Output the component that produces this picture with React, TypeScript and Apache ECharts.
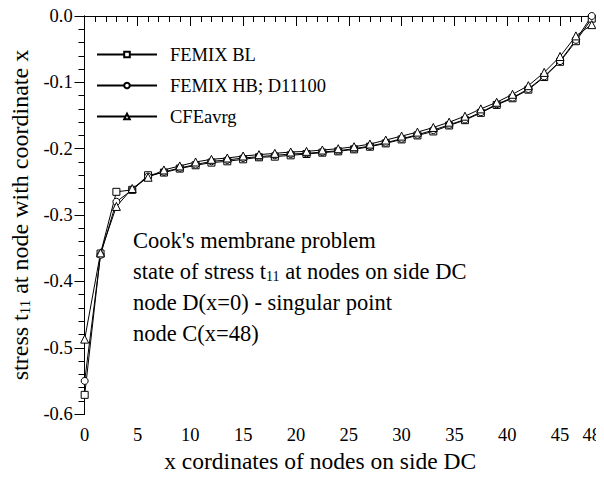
import React, { useEffect, useRef } from "react";
import * as echarts from "echarts";

const xNodes = [0, 1.5, 3, 4.5, 6, 7.5, 9, 10.5, 12, 13.5, 15, 16.5, 18, 19.5, 21, 22.5, 24, 25.5, 27, 28.5, 30, 31.5, 33, 34.5, 36, 37.5, 39, 40.5, 42, 43.5, 45, 46.5, 48];

const femixBL = [-0.571, -0.358, -0.265, -0.262, -0.240, -0.236, -0.230, -0.225, -0.221, -0.219, -0.216, -0.213, -0.212, -0.210, -0.208, -0.206, -0.204, -0.201, -0.197, -0.192, -0.186, -0.180, -0.174, -0.165, -0.157, -0.146, -0.134, -0.124, -0.111, -0.092, -0.069, -0.038, -0.004];

const femixHB = [-0.550, -0.360, -0.280, -0.262, -0.242, -0.235, -0.229, -0.224, -0.219, -0.217, -0.214, -0.212, -0.210, -0.208, -0.207, -0.205, -0.203, -0.200, -0.196, -0.191, -0.185, -0.179, -0.172, -0.164, -0.156, -0.145, -0.133, -0.123, -0.110, -0.091, -0.068, -0.036, 0.0];

const cfeAvrg = [-0.487, -0.357, -0.287, -0.260, -0.243, -0.232, -0.226, -0.220, -0.216, -0.214, -0.211, -0.209, -0.207, -0.205, -0.204, -0.202, -0.200, -0.197, -0.193, -0.187, -0.181, -0.175, -0.168, -0.160, -0.151, -0.140, -0.130, -0.118, -0.105, -0.085, -0.061, -0.030, -0.013];

const seriesNames = ["FEMIX BL", "FEMIX HB; D11100", "CFEavrg"];
const seriesSymbols = ["rect", "circle", "triangle"];

const annotationLines = [
  "Cook's membrane problem",
  "state of stress t{sub|11} at nodes on side DC",
  "node D(x=0) - singular point",
  "node C(x=48)",
];

const FONT = "Liberation Serif";

export default function App() {
  const ref = useRef<HTMLDivElement>(null);
  useEffect(() => {
    if (!ref.current) return;
    const chart = echarts.init(ref.current, null, { renderer: "svg" });
    const allData = [femixBL, femixHB, cfeAvrg];
    const lineCommon = { show: true, lineStyle: { color: "#000", width: 1 } };
    const xBase = { type: "value", min: 0, max: 48, gridIndex: 0, splitLine: { show: false }, axisLine: lineCommon };
    const yBase = { type: "value", min: -0.6, max: 0, interval: 0.1, splitLine: { show: false }, axisLine: lineCommon };
    chart.setOption({
      animation: false,
      backgroundColor: "#fff",
      textStyle: { fontFamily: FONT },
      grid: { left: 81, right: 11, top: 16, bottom: 53, containLabel: false },
      legend: {
        orient: "vertical",
        left: 91,
        top: 40,
        itemWidth: 60,
        itemHeight: 7,
        itemGap: 12,
        data: seriesNames,
        textStyle: { fontFamily: FONT, fontSize: 18.5, color: "#000", padding: [0, 0, 0, 8] },
      },
      xAxis: [
        {
          ...xBase,
          position: "bottom",
          interval: 5,
          axisTick: { show: true, inside: false, length: 10, lineStyle: { color: "#000" } },
          axisLabel: { show: true, margin: 11, fontFamily: FONT, fontSize: 18.5, color: "#000" },
          name: "x cordinates of nodes on side DC",
          nameLocation: "middle",
          nameGap: 28,
          nameTextStyle: { fontFamily: FONT, fontSize: 23.5, color: "#000", padding: [0, 36, 0, 0] },
        },
        {
          ...xBase,
          position: "bottom",
          interval: 1,
          axisTick: { show: true, inside: false, length: 6, lineStyle: { color: "#000" } },
          axisLabel: { show: false },
        },
        {
          ...xBase,
          position: "top",
          interval: 5,
          axisTick: { show: true, inside: true, length: 10, lineStyle: { color: "#000" } },
          axisLabel: { show: false },
        },
        {
          ...xBase,
          position: "top",
          interval: 1,
          axisTick: { show: true, inside: true, length: 6, lineStyle: { color: "#000" } },
          axisLabel: { show: false },
        },
      ],
      yAxis: [
        {
          ...yBase,
          position: "left",
          axisTick: { show: true, inside: false, length: 10, lineStyle: { color: "#000" } },
          minorTick: { show: true, splitNumber: 5, length: 6, lineStyle: { color: "#000" } },
          axisLabel: {
            show: true,
            margin: 12,
            fontFamily: FONT,
            fontSize: 18.5,
            color: "#000",
            formatter: (v: number) => v.toFixed(1),
          },
          name: "stress t{sub|11} at node with coordinate x",
          nameLocation: "middle",
          nameGap: 50,
          nameTextStyle: {
            fontFamily: FONT,
            fontSize: 24,
            color: "#000",
            rich: { sub: { fontFamily: FONT, fontSize: 15, color: "#000", padding: [10, 0, 0, 0] } },
          },
        },
        {
          ...yBase,
          position: "right",
          axisTick: { show: true, inside: true, length: 10, lineStyle: { color: "#000" } },
          minorTick: { show: true, splitNumber: 5, length: 6, lineStyle: { color: "#000" } },
          axisLabel: { show: false },
        },
      ],
      graphic: annotationLines.map((t, i) => ({
        type: "text",
        left: 133,
        top: 229 + i * 31,
        z: 10,
        style: {
          text: t,
          fontFamily: FONT,
          fontSize: 22.5,
          fill: "#000",
          rich: { sub: { fontFamily: FONT, fontSize: 14, fill: "#000", padding: [10, 0, 0, 0] } },
        },
      })),
      series: seriesNames.map((name, i) => ({
        name,
        type: "line",
        xAxisIndex: 0,
        yAxisIndex: 0,
        clip: false,
        data: xNodes.map((x, j) => [x, allData[i][j]]),
        symbol: seriesSymbols[i],
        symbolSize: i === 2 ? 8 : 7,
        showAllSymbol: true,
        lineStyle: { color: "#000", width: 1 },
        itemStyle: { color: "#fff", borderColor: "#000", borderWidth: 1 },
      })),
    });
    return () => chart.dispose();
  }, []);
  return <div ref={ref} style={{ width: 604, height: 478, margin: -8 }} />;
}
